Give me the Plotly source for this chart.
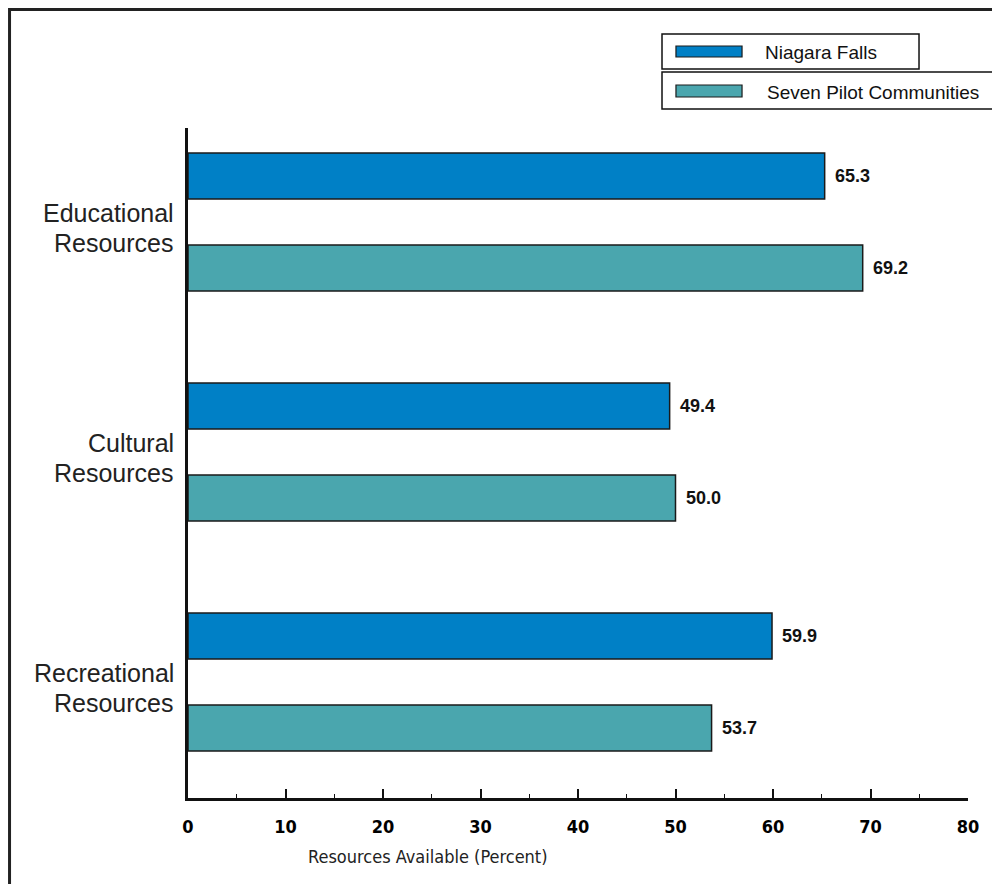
import plotly.graph_objects as go

categories = ["Educational<br>Resources", "Cultural<br>Resources", "Recreational<br>Resources"]
series_names = ["Niagara Falls", "Seven Pilot Communities"]
niagara = [65.3, 49.4, 59.9]
seven = [69.2, 50.0, 53.7]
x_ticks = [0, 10, 20, 30, 40, 50, 60, 70, 80]
x_title = "Resources Available (Percent)"

colors = ["#0080C6", "#4AA6AE"]
outline = "#1a1a1a"
narrow = "Liberation Sans Narrow, Arial Narrow, DejaVu Sans Condensed, sans-serif"
sans = "Liberation Sans, Arial, Helvetica, sans-serif"

ypos = list(range(len(categories)))
offsets = [-0.3, 0.1]

fig = go.Figure()
for name, vals, col, off in zip(series_names, [niagara, seven], colors, offsets):
    fig.add_trace(go.Bar(
        y=ypos, x=vals, orientation="h", name=name,
        width=0.2, offset=off,
        marker=dict(color=col, line=dict(color=outline, width=1.5)),
        showlegend=False, hoverinfo="x+name",
    ))
    for yi, v in zip(ypos, vals):
        fig.add_annotation(
            x=v, y=yi + off + 0.1, xref="x", yref="y",
            text=f"<b>{v:.1f}</b>", showarrow=False,
            xanchor="left", yanchor="middle", xshift=8,
            font=dict(family=sans, size=18, color="#111"),
        )

# category labels (one annotation per line for tighter line spacing)
line_shifts = [9, -21]
for yi, cat in zip(ypos, categories):
    for line, ys in zip(cat.split("<br>"), line_shifts):
        fig.add_annotation(
            x=0, y=yi, xref="x", yref="y", text=line, showarrow=False,
            xanchor="right", yanchor="middle", xshift=-12, yshift=ys,
            font=dict(family=sans, size=25, color="#222"),
        )

fig.update_layout(
    width=992, height=876,
    margin=dict(l=180, r=32, t=120, b=86),
    paper_bgcolor="white", plot_bgcolor="white",
    barmode="overlay",
    xaxis=dict(
        range=[0, 80], tickvals=x_ticks,
        ticktext=[f"<b>{t}</b>" for t in x_ticks],
        showline=True, linecolor="#111", linewidth=2.5,
        ticks="inside", ticklen=9, tickwidth=1.5, tickcolor="#111",
        minor=dict(dtick=5, ticks="inside", ticklen=4, tickwidth=1.2, tickcolor="#111"),
        showgrid=False, zeroline=False,
        tickfont=dict(family=narrow, size=18, color="#000"),
        ticklabelstandoff=11,
    ),
    yaxis=dict(
        range=[2.504, -0.409], tickvals=ypos, showticklabels=False,
        showline=True, linecolor="#111", linewidth=2.5,
        ticks="", showgrid=False, zeroline=False,
    ),
)

# axis title
fig.add_annotation(
    x=0.308, y=-0.088, xref="paper", yref="paper", text=x_title,
    showarrow=False, xanchor="center", yanchor="middle",
    font=dict(family=narrow, size=18, color="#222"),
)

# outer frame (top and left lines)
fig.add_shape(type="line", xref="paper", yref="paper",
              x0=-0.2288, x1=1.06, y0=1.1769, y1=1.1769,
              line=dict(color="#222", width=3))
fig.add_shape(type="line", xref="paper", yref="paper",
              x0=-0.2288, x1=-0.2288, y0=1.1836, y1=-0.2,
              line=dict(color="#222", width=3))

# manual legend boxes
boxes = [(0.6077, 0.9372, 1.0881, 1.1403), (0.6077, 1.0321, 1.0284, 1.0836)]
swatches = [(1.1060, 1.1224), (1.0463, 1.0642)]
text_pos = [(0.7372, 1.1134), (0.7397, 1.0537)]
for name, col, (bx0, bx1, by0, by1), (sy0, sy1), (tx, ty) in zip(series_names, colors, boxes, swatches, text_pos):
    fig.add_shape(type="rect", xref="paper", yref="paper",
                  x0=bx0, x1=bx1, y0=by0, y1=by1,
                  line=dict(color="#111", width=1.5), fillcolor="white")
    fig.add_shape(type="rect", xref="paper", yref="paper",
                  x0=0.6256, x1=0.7103, y0=sy0, y1=sy1,
                  line=dict(color=outline, width=1.2), fillcolor=col)
    fig.add_annotation(x=tx, y=ty, xref="paper", yref="paper", text=name,
                       showarrow=False, xanchor="left", yanchor="middle",
                       font=dict(family=sans, size=19, color="#111"))

fig.write_html("out.html")
